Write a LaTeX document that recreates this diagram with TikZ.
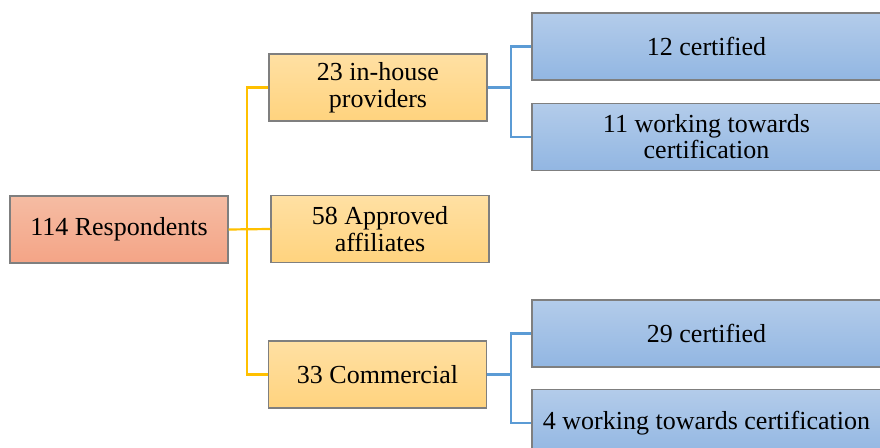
\documentclass[tikz,border=0pt]{standalone}
\usepackage{fontspec}
\setmainfont{Liberation Serif}
\usepackage{tikz}
\usetikzlibrary{positioning}
\definecolor{rootTop}{HTML}{F5BCA3}
\definecolor{rootBot}{HTML}{F4A486}
\definecolor{midTop}{HTML}{FFE0A3}
\definecolor{midBot}{HTML}{FFD37E}
\definecolor{leafTop}{HTML}{B3CCEA}
\definecolor{leafBot}{HTML}{92B6E2}
\definecolor{boxLine}{HTML}{7F7F7F}
\definecolor{yLine}{HTML}{FFC000}
\definecolor{bLine}{HTML}{5B9BD5}

\begin{document}
\begin{tikzpicture}[x=0.5pt,y=-0.5pt,node distance=11pt,
                    font={\fontsize{13pt}{13.3pt}\selectfont},
                    box/.style={draw=boxLine,line width=0.6pt,inner sep=0pt,align=center,minimum height=33.5pt},
                    root node/.style={box,top color=rootTop,bottom color=rootBot,minimum width=109pt},
                    mid node/.style={box,top color=midTop,bottom color=midBot,minimum width=109pt},
                    leaf node/.style={box,top color=leafTop,bottom color=leafBot,minimum width=174.5pt},
                    yline/.style={draw=yLine,line width=1.1pt},
                    bline/.style={draw=bLine,line width=1.1pt}]

  \useasboundingbox (0,0) rectangle (880,448);
  \clip (0,0) rectangle (880,448);

  \node[root node] (resp) at (119,229.5) {114 Respondents};

  \node[mid node] (inhouse)  at (378,87.5)  {23 in-house\\providers};
  \node[mid node] (approved) at (380,229)   {58 Approved\\affiliates};
  \node[mid node] (commerc)  at (377.5,374.5) {33 Commercial};

  \node[leaf node] (cert1) at (706.5,46.5) {12 certified};
  \node[leaf node] (work1) [below=of cert1] {11 working towards\\certification};
  \node[leaf node] (cert2) at (706.5,333.5) {29 certified};
  \node[leaf node] (work2) [below=10.5pt of cert2] {4 working towards certification};

  % yellow tree
  \coordinate (ybus) at (246.7,229);
  \draw[yline] (resp.east) -- (approved.west);
  \draw[yline] (inhouse.west) -| (ybus) |- (commerc.west);

  % blue trees
  \coordinate (bbus1) at (510.7,87.5);
  \coordinate (bbus2) at (510.7,374.5);
  \draw[bline] (inhouse.east) -- (bbus1);
  \draw[bline] (cert1.west) -| (bbus1) |- (work1.west);
  \draw[bline] (commerc.east) -- (bbus2);
  \draw[bline] (cert2.west) -| (bbus2) |- (work2.west);
\end{tikzpicture}
\end{document}
